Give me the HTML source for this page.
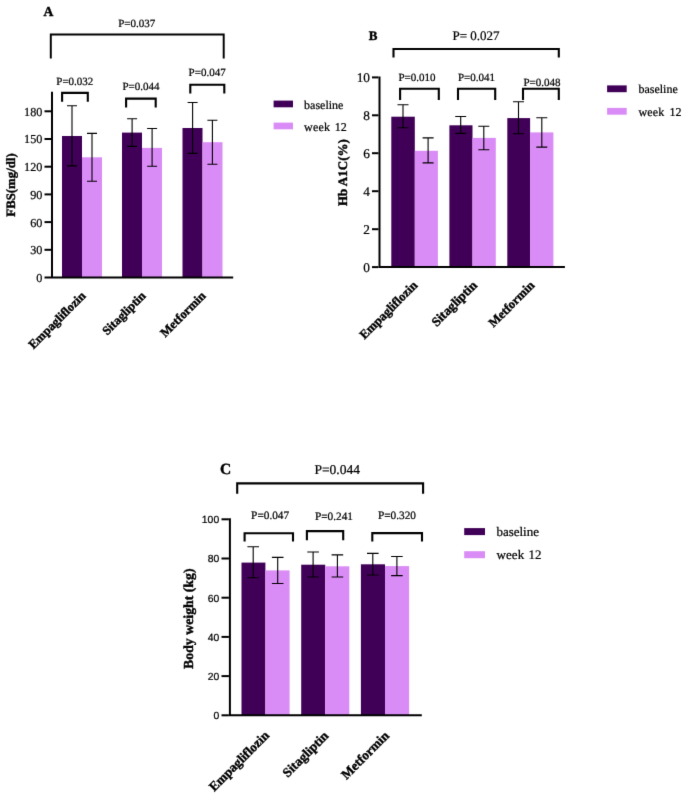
<!DOCTYPE html>
<html><head><meta charset="utf-8"><title>Figure</title>
<style>
html,body{margin:0;padding:0;background:#fff}
svg{display:block}
text{fill:#000;text-rendering:geometricPrecision;stroke:#000;stroke-width:.22px}
text[font-weight=bold]{stroke-width:.4px}
</style></head><body>
<svg width="685" height="797" viewBox="0 0 685 797">
<defs><filter id="soft" color-interpolation-filters="sRGB" x="0" y="0" width="685" height="797" filterUnits="userSpaceOnUse"><feConvolveMatrix order="3" kernelMatrix="0 1 0 1 8 1 0 1 0" divisor="12" edgeMode="duplicate" preserveAlpha="true"/></filter></defs>
<g filter="url(#soft)">
<rect width="685" height="797" fill="#fff"/>
<g id="panelA">
<rect x="62.0" y="136.0" width="20.0" height="141.5" fill="#400057"/>
<rect x="82.0" y="157.3" width="20.0" height="120.2" fill="#DA8CF6"/>
<rect x="122.0" y="132.6" width="20.0" height="144.9" fill="#400057"/>
<rect x="142.0" y="147.9" width="20.0" height="129.6" fill="#DA8CF6"/>
<rect x="182.5" y="128.0" width="20.0" height="149.5" fill="#400057"/>
<rect x="202.5" y="142.2" width="20.0" height="135.3" fill="#DA8CF6"/>
<path d="M67.0 105.8H77.0M67.0 165.9H77.0M72.0 105.8V165.9" stroke="#000" stroke-width="1.1" fill="none"/>
<path d="M87.0 133.4H97.0M87.0 181.2H97.0M92.0 133.4V181.2" stroke="#000" stroke-width="1.1" fill="none"/>
<path d="M127.1 118.7H137.1M127.1 146.4H137.1M132.1 118.7V146.4" stroke="#000" stroke-width="1.1" fill="none"/>
<path d="M147.1 128.5H157.1M147.1 166.3H157.1M152.1 128.5V166.3" stroke="#000" stroke-width="1.1" fill="none"/>
<path d="M187.6 102.5H197.6M187.6 153.4H197.6M192.6 102.5V153.4" stroke="#000" stroke-width="1.1" fill="none"/>
<path d="M207.4 120.3H217.4M207.4 164.2H217.4M212.4 120.3V164.2" stroke="#000" stroke-width="1.1" fill="none"/>
<path d="M52.0 91.8V277.5M51.00 277.5H233.2" stroke="#000" stroke-width="2.0" fill="none"/>
<path d="M44.5 277.5H51.00" stroke="#000" stroke-width="2.0"/>
<text x="42.4" y="281.9" font-family='"Liberation Serif", serif' font-size="12.2" text-anchor="end" >0</text>
<path d="M44.5 249.8H51.00" stroke="#000" stroke-width="2.0"/>
<text x="42.4" y="254.2" font-family='"Liberation Serif", serif' font-size="12.2" text-anchor="end" >30</text>
<path d="M44.5 222.1H51.00" stroke="#000" stroke-width="2.0"/>
<text x="42.4" y="226.5" font-family='"Liberation Serif", serif' font-size="12.2" text-anchor="end" >60</text>
<path d="M44.5 194.4H51.00" stroke="#000" stroke-width="2.0"/>
<text x="42.4" y="198.8" font-family='"Liberation Serif", serif' font-size="12.2" text-anchor="end" >90</text>
<path d="M44.5 166.7H51.00" stroke="#000" stroke-width="2.0"/>
<text x="42.4" y="171.1" font-family='"Liberation Serif", serif' font-size="12.2" text-anchor="end" >120</text>
<path d="M44.5 139.0H51.00" stroke="#000" stroke-width="2.0"/>
<text x="42.4" y="143.4" font-family='"Liberation Serif", serif' font-size="12.2" text-anchor="end" >150</text>
<path d="M44.5 111.3H51.00" stroke="#000" stroke-width="2.0"/>
<text x="42.4" y="115.7" font-family='"Liberation Serif", serif' font-size="12.2" text-anchor="end" >180</text>
<path d="M50.8 58.6V34.5H223.7V58.6" stroke="#000" stroke-width="1.95" fill="none" stroke-linejoin="miter"/>
<path d="M62.1 101.7V92.9H87.8V101.7" stroke="#000" stroke-width="2.1" fill="none" stroke-linejoin="miter"/>
<path d="M126.1 107.5V98.6H155.7V107.5" stroke="#000" stroke-width="2.1" fill="none" stroke-linejoin="miter"/>
<path d="M190.3 93.6V84.8H224.3V93.6" stroke="#000" stroke-width="2.1" fill="none" stroke-linejoin="miter"/>
<text x="136.8" y="27.0" font-family='"Liberation Serif", serif' font-size="11" text-anchor="middle" >P=0.037</text>
<text x="56.3" y="84.6" font-family='"Liberation Serif", serif' font-size="11" text-anchor="start" >P=0.032</text>
<text x="122.5" y="90.2" font-family='"Liberation Serif", serif' font-size="11" text-anchor="start" >P=0.044</text>
<text x="188.6" y="76.3" font-family='"Liberation Serif", serif' font-size="11" text-anchor="start" >P=0.047</text>
<text x="43.6" y="15.6" font-family='"Liberation Serif", serif' font-size="13.6" text-anchor="start" font-weight="bold" >A</text>
<text transform="translate(15.3 185.0) rotate(-90)" font-family='"Liberation Serif", serif' font-size="12.8" text-anchor="middle" font-weight="bold">FBS(mg/dl)</text>
<text transform="translate(86.5 296.5) rotate(-45)" font-family='"Liberation Serif", serif' font-size="12.5" text-anchor="end" font-weight="bold">Empagliflozin</text>
<text transform="translate(146.5 296.5) rotate(-45)" font-family='"Liberation Serif", serif' font-size="12.5" text-anchor="end" font-weight="bold">Sitagliptin</text>
<text transform="translate(206.5 296.5) rotate(-45)" font-family='"Liberation Serif", serif' font-size="12.5" text-anchor="end" font-weight="bold">Metformin</text>
<rect x="273.6" y="100.6" width="19.4" height="6.7" fill="#400057"/>
<rect x="273.6" y="122.6" width="19.4" height="6.7" fill="#DA8CF6"/>
<text x="304.1" y="108.6" font-family='"Liberation Serif", serif' font-size="12" text-anchor="start" >baseline</text>
<text x="304.1" y="130.6" font-family='"Liberation Serif", serif' font-size="12" text-anchor="start" word-spacing="1.38" letter-spacing="0.18">week 12</text>
</g>
<g id="panelB">
<rect x="391.3" y="116.7" width="23.5" height="150.4" fill="#400057"/>
<rect x="414.8" y="150.8" width="23.1" height="116.3" fill="#DA8CF6"/>
<rect x="449.4" y="125.3" width="23.1" height="141.8" fill="#400057"/>
<rect x="472.5" y="137.9" width="23.3" height="129.2" fill="#DA8CF6"/>
<rect x="507.3" y="118.1" width="22.8" height="149.0" fill="#400057"/>
<rect x="530.1" y="132.4" width="23.3" height="134.7" fill="#DA8CF6"/>
<path d="M397.5 104.8H408.5M397.5 127.7H408.5M403.0 104.8V127.7" stroke="#000" stroke-width="1.1" fill="none"/>
<path d="M422.6 137.9H433.6M422.6 162.9H433.6M428.1 137.9V162.9" stroke="#000" stroke-width="1.1" fill="none"/>
<path d="M455.2 116.5H466.2M455.2 133.4H466.2M460.7 116.5V133.4" stroke="#000" stroke-width="1.1" fill="none"/>
<path d="M478.3 126.3H489.3M478.3 149.8H489.3M483.8 126.3V149.8" stroke="#000" stroke-width="1.1" fill="none"/>
<path d="M513.0 101.8H524.0M513.0 133.8H524.0M518.5 101.8V133.8" stroke="#000" stroke-width="1.1" fill="none"/>
<path d="M536.3 117.7H547.3M536.3 147.1H547.3M541.8 117.7V147.1" stroke="#000" stroke-width="1.1" fill="none"/>
<path d="M379.5 76.6V267.1M378.50 267.1H564.9" stroke="#000" stroke-width="2.0" fill="none"/>
<path d="M372.0 267.1H378.50" stroke="#000" stroke-width="2.0"/>
<text x="370.0" y="271.6" font-family='"Liberation Serif", serif' font-size="13.3" text-anchor="end" >0</text>
<path d="M372.0 229.2H378.50" stroke="#000" stroke-width="2.0"/>
<text x="370.0" y="233.7" font-family='"Liberation Serif", serif' font-size="13.3" text-anchor="end" >2</text>
<path d="M372.0 191.2H378.50" stroke="#000" stroke-width="2.0"/>
<text x="370.0" y="195.7" font-family='"Liberation Serif", serif' font-size="13.3" text-anchor="end" >4</text>
<path d="M372.0 153.2H378.50" stroke="#000" stroke-width="2.0"/>
<text x="370.0" y="157.8" font-family='"Liberation Serif", serif' font-size="13.3" text-anchor="end" >6</text>
<path d="M372.0 115.3H378.50" stroke="#000" stroke-width="2.0"/>
<text x="370.0" y="119.8" font-family='"Liberation Serif", serif' font-size="13.3" text-anchor="end" >8</text>
<path d="M372.0 77.4H378.50" stroke="#000" stroke-width="2.0"/>
<text x="370.0" y="81.9" font-family='"Liberation Serif", serif' font-size="13.3" text-anchor="end" >10</text>
<path d="M393.5 57.4V49.0H558.8V57.4" stroke="#000" stroke-width="2.1" fill="none" stroke-linejoin="miter"/>
<path d="M400.1 99.9V88.8H438.8V99.9" stroke="#000" stroke-width="2.1" fill="none" stroke-linejoin="miter"/>
<path d="M458.0 99.9V88.8H495.2V99.9" stroke="#000" stroke-width="2.1" fill="none" stroke-linejoin="miter"/>
<path d="M523.0 99.9V88.8H558.8V99.9" stroke="#000" stroke-width="2.1" fill="none" stroke-linejoin="miter"/>
<text x="476.0" y="39.8" font-family='"Liberation Serif", serif' font-size="13" text-anchor="middle" >P= 0.027</text>
<text x="398.5" y="81.4" font-family='"Liberation Serif", serif' font-size="11" text-anchor="start" >P=0.010</text>
<text x="458.0" y="81.4" font-family='"Liberation Serif", serif' font-size="11" text-anchor="start" >P=0.041</text>
<text x="523.4" y="85.8" font-family='"Liberation Serif", serif' font-size="11" text-anchor="start" >P=0.048</text>
<text x="368.8" y="40.2" font-family='"Liberation Serif", serif' font-size="13" text-anchor="start" font-weight="bold" >B</text>
<text transform="translate(347.0 172.6) rotate(-90)" font-family='"Liberation Serif", serif' font-size="13" text-anchor="middle" font-weight="bold">Hb A1C(%)</text>
<text transform="translate(418.3 286.0) rotate(-45)" font-family='"Liberation Serif", serif' font-size="12.7" text-anchor="end" font-weight="bold">Empagliflozin</text>
<text transform="translate(477.8 286.0) rotate(-45)" font-family='"Liberation Serif", serif' font-size="13.1" text-anchor="end" font-weight="bold">Sitagliptin</text>
<text transform="translate(535.3 286.0) rotate(-45)" font-family='"Liberation Serif", serif' font-size="12.7" text-anchor="end" font-weight="bold">Metformin</text>
<rect x="607.1" y="85.4" width="19.6" height="6.8" fill="#400057"/>
<rect x="607.1" y="107.9" width="19.6" height="6.8" fill="#DA8CF6"/>
<text x="638.4" y="93.4" font-family='"Liberation Serif", serif' font-size="12" text-anchor="start" >baseline</text>
<text x="638.4" y="116.2" font-family='"Liberation Serif", serif' font-size="12" text-anchor="start" word-spacing="1.65" letter-spacing="0.21">week 12</text>
</g>
<g id="panelC">
<rect x="241.5" y="562.6" width="23.9" height="152.7" fill="#400057"/>
<rect x="265.4" y="570.4" width="24.2" height="144.9" fill="#DA8CF6"/>
<rect x="301.2" y="564.7" width="24.0" height="150.6" fill="#400057"/>
<rect x="325.2" y="566.3" width="24.1" height="149.0" fill="#DA8CF6"/>
<rect x="360.9" y="564.3" width="24.1" height="151.0" fill="#400057"/>
<rect x="385.0" y="566.1" width="24.1" height="149.2" fill="#DA8CF6"/>
<path d="M247.4 546.7H259.0M247.4 577.8H259.0M253.2 546.7V577.8" stroke="#000" stroke-width="1.1" fill="none"/>
<path d="M271.9 557.4H283.5M271.9 583.5H283.5M277.7 557.4V583.5" stroke="#000" stroke-width="1.1" fill="none"/>
<path d="M307.3 552.0H318.9M307.3 577.0H318.9M313.1 552.0V577.0" stroke="#000" stroke-width="1.1" fill="none"/>
<path d="M331.6 554.9H343.2M331.6 577.0H343.2M337.4 554.9V577.0" stroke="#000" stroke-width="1.1" fill="none"/>
<path d="M367.0 553.4H378.6M367.0 575.0H378.6M372.8 553.4V575.0" stroke="#000" stroke-width="1.1" fill="none"/>
<path d="M391.1 556.5H402.7M391.1 575.6H402.7M396.9 556.5V575.6" stroke="#000" stroke-width="1.1" fill="none"/>
<path d="M229.9 518.3V715.3M228.90 715.3H421.8" stroke="#000" stroke-width="2.0" fill="none"/>
<path d="M221.5 715.3H228.90" stroke="#000" stroke-width="2.0"/>
<text x="219.2" y="719.1" font-family='"Liberation Sans", sans-serif' font-size="10.4" text-anchor="end" >0</text>
<path d="M221.5 676.1H228.90" stroke="#000" stroke-width="2.0"/>
<text x="219.2" y="679.9" font-family='"Liberation Sans", sans-serif' font-size="10.4" text-anchor="end" >20</text>
<path d="M221.5 636.9H228.90" stroke="#000" stroke-width="2.0"/>
<text x="219.2" y="640.7" font-family='"Liberation Sans", sans-serif' font-size="10.4" text-anchor="end" >40</text>
<path d="M221.5 597.7H228.90" stroke="#000" stroke-width="2.0"/>
<text x="219.2" y="601.5" font-family='"Liberation Sans", sans-serif' font-size="10.4" text-anchor="end" >60</text>
<path d="M221.5 558.5H228.90" stroke="#000" stroke-width="2.0"/>
<text x="219.2" y="562.3" font-family='"Liberation Sans", sans-serif' font-size="10.4" text-anchor="end" >80</text>
<path d="M221.5 519.3H228.90" stroke="#000" stroke-width="2.0"/>
<text x="219.2" y="523.1" font-family='"Liberation Sans", sans-serif' font-size="10.4" text-anchor="end" >100</text>
<path d="M237.2 493.8V483.4H423.1V493.8" stroke="#000" stroke-width="2.1" fill="none" stroke-linejoin="miter"/>
<path d="M244.6 541.4V533.2H293.0V541.4" stroke="#000" stroke-width="2.1" fill="none" stroke-linejoin="miter"/>
<path d="M306.9 540.3V531.1H343.2V540.3" stroke="#000" stroke-width="2.1" fill="none" stroke-linejoin="miter"/>
<path d="M372.3 541.4V533.1H422.0V541.4" stroke="#000" stroke-width="2.1" fill="none" stroke-linejoin="miter"/>
<text x="337.2" y="474.3" font-family='"Liberation Serif", serif' font-size="13.5" text-anchor="middle" >P=0.044</text>
<text x="251.1" y="518.7" font-family='"Liberation Serif", serif' font-size="11.3" text-anchor="start" >P=0.047</text>
<text x="314.9" y="520.3" font-family='"Liberation Serif", serif' font-size="11.3" text-anchor="start" >P=0.241</text>
<text x="377.9" y="518.7" font-family='"Liberation Serif", serif' font-size="11.3" text-anchor="start" >P=0.320</text>
<text x="220.1" y="474.1" font-family='"Liberation Serif", serif' font-size="15.5" text-anchor="start" font-weight="bold" >C</text>
<text transform="translate(193.1 618.7) rotate(-90)" font-family='"Liberation Serif", serif' font-size="13.8" text-anchor="middle" font-weight="bold">Body weight (kg)</text>
<text transform="translate(270.0 736.2) rotate(-45)" font-family='"Liberation Serif", serif' font-size="13.15" text-anchor="end" font-weight="bold">Empagliflozin</text>
<text transform="translate(329.3 736.5) rotate(-45)" font-family='"Liberation Serif", serif' font-size="13.2" text-anchor="end" font-weight="bold">Sitagliptin</text>
<text transform="translate(389.9 736.5) rotate(-45)" font-family='"Liberation Serif", serif' font-size="13.2" text-anchor="end" font-weight="bold">Metformin</text>
<rect x="464.2" y="528.1" width="20.8" height="7" fill="#400057"/>
<rect x="464.2" y="551.2" width="20.8" height="7" fill="#DA8CF6"/>
<text x="496.4" y="536.1" font-family='"Liberation Serif", serif' font-size="13" text-anchor="start" >baseline</text>
<text x="496.4" y="559.2" font-family='"Liberation Serif", serif' font-size="13" text-anchor="start" word-spacing="0.83" letter-spacing="0.11">week 12</text>
</g>
</g>
</svg>
</body></html>
